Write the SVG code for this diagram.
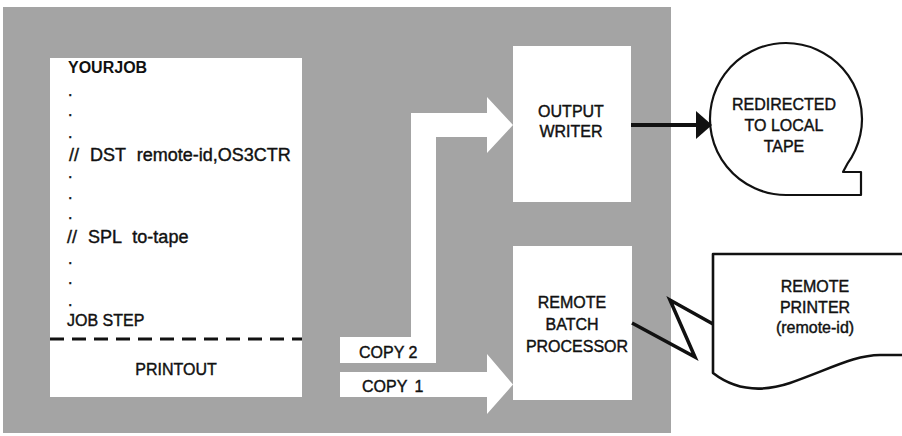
<svg xmlns="http://www.w3.org/2000/svg" width="902" height="436" viewBox="0 0 902 436">
  <style>
    .t { font-family: "Liberation Sans", Arial, sans-serif; font-size: 16px; fill: #111; stroke: #111; stroke-width: 0.4; }
    .b { font-weight: bold; stroke-width: 0; }
    .c { text-anchor: middle; }
    .cmd { font-size: 18px; word-spacing: 6px; }
    .box { fill: #fff; }
    .out { fill: #fff; stroke: #111; stroke-width: 2.2; stroke-linejoin: round; }
    .wire { fill: none; stroke: #111; stroke-width: 3.5; stroke-linejoin: miter; }
  </style>
  <defs>
    <marker id="ah" viewBox="0 0 16 28" refX="15" refY="14" markerWidth="16" markerHeight="28" markerUnits="userSpaceOnUse" orient="auto">
      <path d="M0 0 L16 14 L0 28 Z" fill="#111"/>
    </marker>
  </defs>
  <rect width="902" height="436" fill="#fff"/>
  <g id="background">
    <rect x="3" y="7" width="668" height="426" fill="#a4a4a4"/>
  </g>
  <g id="yourjob">
    <rect class="box" x="50" y="58" width="252" height="339"/>
    <text class="t b" x="68" y="73" font-size="17">YOURJOB</text>
    <text class="t" x="68" y="96">.</text>
    <text class="t" x="68" y="116">.</text>
    <text class="t" x="68" y="138">.</text>
    <text class="t cmd" x="69" y="161">// DST remote-id,OS3CTR</text>
    <text class="t" x="68" y="178">.</text>
    <text class="t" x="68" y="199">.</text>
    <text class="t" x="68" y="219">.</text>
    <text class="t cmd" x="67" y="243">// SPL to-tape</text>
    <text class="t" x="68" y="264">.</text>
    <text class="t" x="68" y="284">.</text>
    <text class="t" x="68" y="306">.</text>
    <text class="t" x="67" y="326">JOB STEP</text>
    <line x1="50" y1="339" x2="302" y2="339" stroke="#111" stroke-width="3" stroke-dasharray="14 8"/>
    <text class="t c" x="176" y="375">PRINTOUT</text>
  </g>
  <g id="output-writer">
    <rect class="box" x="513" y="46" width="118" height="156"/>
    <text class="t c" x="571" y="117">OUTPUT</text>
    <text class="t c" x="571" y="137">WRITER</text>
  </g>
  <g id="remote-batch-processor">
    <rect class="box" x="513" y="246" width="119" height="154"/>
    <text class="t c" x="572" y="308">REMOTE</text>
    <text class="t c" x="572" y="330">BATCH</text>
    <text class="t c" x="577" y="352">PROCESSOR</text>
  </g>
  <g id="local-tape">
    <path class="out" d="M786 195 L861 195 L861 172 L843 172 L847.3 163.9 A76 76 0 1 0 786 195 Z"/>
    <text class="t c" x="784" y="110">REDIRECTED</text>
    <text class="t c" x="784" y="131">TO LOCAL</text>
    <text class="t c" x="784" y="152">TAPE</text>
  </g>
  <g id="remote-printer">
    <path d="M904 254 L713 254 L713 373 C735 390 760 393 790 383 C830 369 855 355 880 355 L904 355" fill="#fff" stroke="#111" stroke-width="2.6" stroke-linejoin="round"/>
    <text class="t c" x="815" y="292">REMOTE</text>
    <text class="t c" x="815" y="313">PRINTER</text>
    <text class="t c" x="815" y="333">(remote-id)</text>
  </g>
  <g id="connectors">
    <path class="box" d="M340 337 L411 337 L411 113 L487 113 L487 97 L513 125 L487 153 L487 137 L436 137 L436 363 L340 363 Z"/>
    <text class="t" x="359" y="358">COPY 2</text>
    <path class="box" d="M340 372 L487 372 L487 354 L513 384.5 L487 414 L487 397 L340 397 Z"/>
    <text class="t" x="362" y="392" word-spacing="3">COPY 1</text>
    <line x1="631" y1="125" x2="711" y2="125" stroke="#111" stroke-width="4" marker-end="url(#ah)"/>
    <polyline class="wire" points="632,323 695,357 670,300 713,324"/>
  </g>
</svg>
